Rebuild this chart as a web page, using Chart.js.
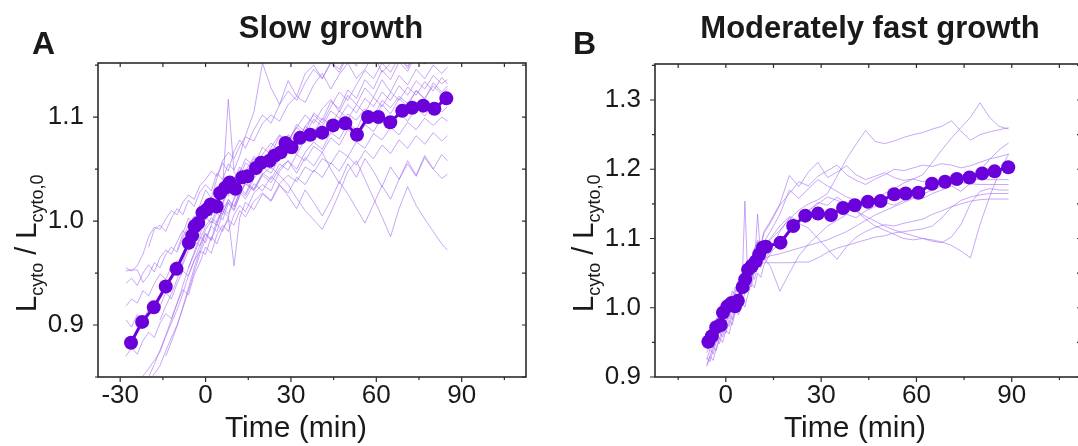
<!DOCTYPE html>
<html>
<head>
<meta charset="utf-8">
<script src="https://cdn.jsdelivr.net/npm/chart.js@4.4.1/dist/chart.umd.min.js"></script>
<style>
  html, body { margin: 0; padding: 0; background: #fff; width: 1078px; height: 446px; overflow: hidden; position: relative; }
  #wrapA { position: absolute; left: 0; top: 0; width: 540px; height: 446px; }
  #wrapB { position: absolute; left: 540px; top: 0; width: 600px; height: 446px; }
</style>
</head>
<body>
<div id="wrapA"><canvas id="cA" width="540" height="446"></canvas></div>
<div id="wrapB"><canvas id="cB" width="600" height="446"></canvas></div>
<script>
// ---------------- Panel A : Slow growth ----------------
const xTicksA = [-30, 0, 30, 60, 90];
const yTicksA = [0.9, 1.0, 1.1];

const timeMeanA = [-26.2,-22.3,-18.2,-14.0,-10.2,-5.9,-4.7,-3.8,-2.6,-1.1,0.4,1.8,3.9,5.1,6.9,8.5,10.5,12.9,14.7,17.7,19.5,22.5,24.3,26.4,28.1,30.2,33.2,36.8,41.0,44.8,49.1,53.2,57.1,60.7,64.9,69.1,72.6,76.5,80.4,84.6];
const meanA = [0.883,0.903,0.917,0.937,0.954,0.979,0.986,0.995,0.998,1.008,1.011,1.016,1.014,1.027,1.032,1.037,1.031,1.042,1.043,1.051,1.056,1.058,1.063,1.066,1.075,1.071,1.080,1.083,1.085,1.092,1.094,1.083,1.100,1.100,1.095,1.106,1.109,1.111,1.108,1.118];

const timeTraceA = [-28,-26,-24,-22,-20,-18,-16,-14,-12,-10,-8,-6,-4,-2,0,2,4,6,8,10,12,14,17,20,23,26,29,32,35,38,41,44,47,50,53,56,59,62,65,68,71,74,77,80,83,85];
const traceA01 = [0.955,0.952,0.957,0.968,0.985,0.994,0.992,1.002,1.010,1.006, 1.018,1.025,1.021,1.034,1.040,1.048,1.043,1.058,1.066,1.060, 1.072,1.081,1.077,1.094,1.102,1.096,1.112,1.120,1.114,1.131, 1.142,1.127,1.141,1.152,1.137,1.146,1.161,1.143,1.152,1.158, 1.147,1.163,1.151,1.168,1.156,1.162];
const traceA02 = [0.940,0.945,0.938,0.950,0.958,0.951,0.965,0.972,0.968,0.980, 0.991,0.985,0.998,1.006,1.001,1.015,1.022,1.016,1.030,1.041, 1.034,1.048,1.062,1.055,1.071,1.083,1.076,1.090,1.102,1.094, 1.108,1.117,1.105,1.121,1.112,1.128,1.119,1.136,1.124,1.140, 1.131,1.146,1.137,1.150,1.142,1.148];
const traceA03 = [0.918,0.925,0.921,0.933,0.928,0.940,0.949,0.944,0.956,0.962, 0.958,0.972,0.981,0.976,0.992,1.000,0.996,1.012,1.007,1.021, 1.030,1.024,1.041,1.052,1.046,1.060,1.071,1.064,1.079,1.088, 1.081,1.095,1.090,1.103,1.097,1.108,1.101,1.116,1.109,1.120, 1.113,1.125,1.118,1.130,1.122,1.127];
const traceA04 = [0.905,0.898,0.910,0.904,0.915,0.922,0.918,0.931,0.925,0.940, 0.952,0.947,0.962,0.971,0.968,0.985,0.978,0.993,1.001,0.996, 1.010,1.004,1.019,1.027,1.020,1.036,1.044,1.038,1.052,1.047, 1.060,1.055,1.068,1.062,1.076,1.070,1.084,1.078,1.090,1.083, 1.095,1.088,1.099,1.092,1.100,1.096];
const traceA05 = [0.870,0.878,0.872,0.885,0.893,0.888,0.902,0.911,0.906,0.921, 0.934,0.929,0.948,0.960,0.975,0.969,0.987,0.996,0.990,1.006, 1.015,1.009,1.027,1.035,1.029,1.048,1.058,1.050,1.066,1.076, 1.069,1.085,1.079,1.094,1.088,1.105,1.097,1.112,1.103,1.118, 1.110,1.126,1.117,1.133,1.124,1.130];
const traceA06 = [null,0.835,0.842,0.851,0.858,0.866,0.874,0.889,0.902,0.915, 0.930,0.948,0.962,0.977,0.988,0.982,1.001,1.010,1.004,1.022, 1.033,1.026,1.044,1.058,1.050,1.067,1.080,1.072,1.091,1.102, 1.094,1.110,1.124,1.116,1.131,1.145,1.137,1.152,1.143,1.158, 1.149,1.165,1.155,1.170,1.160,1.166];
const traceA07 = [null,null,0.830,0.838,0.846,0.853,0.861,0.875,0.888,0.900, 0.916,0.933,0.951,0.968,0.983,0.995,0.990,1.008,1.018,1.011, 1.025,1.038,1.031,1.046,1.040,1.055,1.049,1.064,1.058,1.072, 1.066,1.080,1.073,1.088,1.079,1.093,1.086,1.099,1.091,1.104, 1.096,1.109,1.101,1.113,1.105,1.110];
const traceA08 = [null,null,null,0.842,0.850,0.862,0.876,0.890,0.905,0.921, 0.938,0.955,0.968,0.982,0.995,1.003,0.998,1.012,1.020,1.014, 1.028,1.036,1.030,1.045,1.052,1.044,1.035,1.022,1.010,1.001, 0.992,1.008,1.027,1.048,1.058,1.040,1.022,1.004,0.985,1.012, 1.033,1.015,1.002,0.990,0.978,0.972];
const traceA09 = [null,null,null,null,0.975,0.992,0.996,0.990,1.003,1.012, 1.006,1.020,1.014,1.028,1.035,1.029,1.046,1.040,1.055,1.049, 1.063,1.082,1.105,1.152,1.128,1.112,1.135,1.120,1.142,1.150, 1.137,1.153,1.146,1.160,1.152,1.164,1.158,1.170,1.160,1.172, 1.165,1.176,1.168,1.178,1.170,1.174];
const traceA10 = [null,null,null,null,null,null,0.905,0.918,0.930,0.944, 0.961,0.978,0.992,0.986,1.004,1.016,1.010,1.034,1.117,1.047, 1.041,1.056,1.049,1.064,1.075,1.068,1.083,1.076,1.091,1.085, 1.099,1.092,1.106,1.098,1.112,1.104,1.119,1.110,1.124,1.116, 1.129,1.121,1.134,1.125,1.138,1.132];
const traceA11 = [null,null,null,null,null,null,null,0.870,0.884,0.899, 0.917,0.936,0.955,0.972,0.988,0.981,0.997,0.990,1.004,0.957, 1.003,1.018,1.011,1.026,1.019,1.034,1.027,1.042,1.035,1.049, 1.042,1.056,1.048,1.062,1.054,1.068,1.060,1.073,1.065,1.078, 1.070,1.082,1.074,1.085,1.077,1.082];
const traceA12 = [null,null,null,null,null,null,null,null,null,0.972, 0.988,1.003,0.996,1.015,1.030,1.022,1.041,1.056,1.048,1.067, 1.078,1.070,1.088,1.102,1.094,1.112,1.125,1.116,1.133,1.146, 1.137,1.152,1.143,1.160,1.149,1.166,1.155,1.170,1.158,1.173, 1.162,1.176,1.165,1.178,1.168,1.172];
const traceA13 = [null,null,null,null,null,null,null,null,null,null, null,0.955,0.970,0.985,0.979,0.996,1.008,1.001,1.017,1.010, 1.024,1.036,1.029,1.044,1.037,1.051,1.058,1.046,1.061,1.053, 1.066,1.050,1.036,1.055,1.042,1.060,1.048,1.033,1.052,1.040, 1.058,1.044,1.063,1.050,1.041,1.045];
const traceA14 = [null,null,null,null,null,null,null,null,null,null, null,null,0.982,0.998,1.012,1.005,1.024,1.017,1.036,1.030, 1.047,1.060,1.053,1.071,1.064,1.082,1.075,1.093,1.086,1.104, 1.097,1.115,1.108,1.126,1.118,1.136,1.127,1.145,1.136,1.153, 1.144,1.161,1.151,1.166,1.156,1.160];
const traceA15 = [null,null,null,null,null,null,null,null,null,null, null,null,null,0.990,1.004,0.998,1.013,1.006,1.021,1.014, 1.028,1.021,1.036,1.029,1.043,1.035,1.024,1.012,1.030,1.018, 1.005,1.020,1.038,1.026,1.012,0.998,1.016,1.034,1.021,1.040, 1.055,1.043,1.061,1.050,1.064,1.058];
const traceA16 = [0.952,0.953,0.953,0.941,0.948,0.960,0.955,0.968,0.975,0.970, 0.984,0.996,1.005,0.999,1.013,1.021,1.015,1.030,1.024,1.040, 1.052,1.045,1.060,1.054,1.068,1.062,1.078,1.090,1.083,1.098, 1.091,1.106,1.099,1.112,1.104,1.118,1.110,1.124,1.116,1.130, 1.121,1.135,1.127,1.140,1.132,1.136];

// ---------------- Panel B : Moderately fast growth ----------------
const xTicksB = [0, 30, 60, 90];
const yTicksB = [0.9, 1.0, 1.1, 1.2, 1.3];

const timeMeanB = [-5.5,-4.4,-3.0,-1.6,-0.9,0.5,1.8,2.9,3.8,5.3,6.1,7.0,8.1,9.4,10.5,11.7,12.6,17.2,21.2,25.0,29.0,33.1,36.9,40.6,44.7,48.7,53.0,56.6,60.6,64.9,69.0,72.7,76.7,80.7,84.6,88.9];
const meanB = [0.951,0.959,0.972,0.975,0.993,1.002,1.007,1.002,1.010,1.030,1.041,1.055,1.060,1.067,1.077,1.087,1.088,1.094,1.118,1.133,1.136,1.134,1.144,1.148,1.153,1.154,1.164,1.165,1.166,1.179,1.182,1.186,1.188,1.194,1.197,1.203];

const timeTraceB = [-6,-5,-4,-3,-2,-1,0,1,2,3,4,5,6,7,8,9,10,11,12,14,17,20,23,26,29,32,35,38,41,44,47,50,53,56,59,62,65,68,71,74,77,80,83,86,89];
const traceB01 = [0.935,0.948,0.962,0.955,0.972,0.985,0.978,0.996,1.004,0.998, 1.015,1.028,1.021,1.044,1.058,1.050,1.072,1.085,1.079, 1.098,1.112,1.128,1.141,1.150,1.156, 1.165,1.190,1.215,1.236,1.256,1.240,1.237,1.241,1.246,1.250, 1.253,1.258,1.262,1.270,1.255,1.242,1.250,1.254,1.257,1.260];
const traceB02 = [0.925,0.940,0.933,0.951,0.965,0.958,0.976,0.990,0.983,1.002, 1.020,1.012,1.035,1.050,1.043,1.066,1.080,1.073,1.095, 1.110,1.135,1.170,1.158,1.172,1.185, 1.176,1.168,1.160,1.155,1.152,1.158,1.165,1.172,1.180,1.186, 1.192,1.210,1.228,1.245,1.260,1.275,1.296,1.275,1.262,1.258];
const traceB03 = [0.950,0.962,0.957,0.975,0.988,0.982,1.000,1.012,1.005,1.024, 1.040,1.033,1.055,1.070,1.062,1.085,1.098,1.090,1.110, 1.125,1.150,1.191,1.175,1.196,1.210, 1.188,1.196,1.205,1.192,1.185,1.190,1.195,1.188,1.184,1.186, 1.182,1.185,1.180,1.183,1.181,1.179,1.178,1.178,1.178,1.178];
const traceB04 = [0.918,0.930,0.945,0.938,0.956,0.970,0.963,0.982,0.975,0.994, 1.010,1.003,1.022,1.038,1.030,1.052,1.065,1.058,1.072, 1.060,1.024,1.050,1.075,1.092,1.105, 1.118,1.126,1.135,1.130,1.140,1.146,1.152,1.148,1.155,1.160, 1.158,1.165,1.170,1.176,1.168,1.180,1.198,1.214,1.228,1.238];
const traceB05 = [0.940,0.952,0.946,0.964,0.978,0.971,0.990,0.983,1.000,1.015, 1.008,1.030,1.024,1.046,1.040,1.062,1.135,1.070,1.088, 1.100,1.118,1.132,1.125,1.140,1.150, 1.160,1.155,1.148,1.140,1.132,1.125,1.118,1.112,1.108,1.104, 1.100,1.098,1.095,1.090,1.082,1.072,1.120,1.160,1.195,1.222];
const traceB06 = [0.955,0.968,0.961,0.980,0.993,0.987,1.004,0.997,1.015,1.030, 1.022,1.040,1.034,1.052,1.046,1.058,1.064,1.065,1.065, 1.065,1.065,1.065,1.066,1.066,1.072, 1.080,1.086,1.090,1.094,1.098,1.102,1.104,1.108,1.110,1.112, 1.114,1.118,1.130,1.145,1.155,1.160,1.163,1.165,1.165,1.165];
const traceB07 = [0.928,0.922,0.940,0.955,0.948,0.966,0.980,0.973,0.992,1.006, 0.999,1.018,1.154,1.030,1.048,1.041,1.060,1.075,1.068, 1.082,1.110,1.130,1.122,1.115,1.100, 1.085,1.070,1.088,1.102,1.110,1.116,1.120,1.118,1.122,1.125, 1.128,1.135,1.140,1.146,1.150,1.154,1.156,1.157,1.157,1.157];
const traceB08 = [0.915,0.930,0.924,0.942,0.957,0.950,0.968,0.962,0.981,0.996, 0.990,1.008,1.001,1.020,1.036,1.029,1.050,1.044,1.062, 1.078,1.096,1.110,1.124,1.140,1.152, 1.148,1.160,1.150,1.140,1.128,1.118,1.112,1.106,1.100,1.098, 1.100,1.096,1.094,1.102,1.120,1.150,1.168,1.172,1.170,1.170];
const traceB09 = [0.945,0.958,0.952,0.970,0.965,0.983,0.998,0.991,1.010,1.003, 1.022,1.016,1.038,1.031,1.052,1.066,1.058,1.076,1.070, 1.075,1.078,1.082,1.086,1.090,1.094, 1.098,1.104,1.110,1.118,1.126,1.134,1.140,1.146,1.152,1.158, 1.164,1.170,1.176,1.180,1.184,1.186,1.185,1.185,1.185,1.185];
const traceB10 = [0.960,0.972,0.966,0.985,0.978,0.996,1.012,1.005,1.024,1.018, 1.037,1.030,1.052,1.068,1.060,1.082,1.095,1.088,1.108, 1.122,1.148,1.165,1.182,1.176,1.190, 1.198,1.206,1.192,1.184,1.178,1.186,1.192,1.200,1.198,1.202, 1.206,1.204,1.208,1.206,1.202,1.205,1.210,1.215,1.218,1.222];

// ---------------- Styling ----------------
const FONT = '"Liberation Sans", Arial, Helvetica, sans-serif';
const MEAN_COLOR = '#6a00da';
const TRACE_COLOR = 'rgba(155, 95, 240, 0.55)';
const AXIS_COLOR = '#2b2b2b';
const TEXT_COLOR = '#1a1a1a';

function buildDatasets(tTrace, traces, tMean, mean) {
  const ds = [{
    data: tMean.map((t, i) => ({ x: t, y: mean[i] })),
    borderColor: MEAN_COLOR, backgroundColor: MEAN_COLOR,
    borderWidth: 3, pointRadius: 7, pointHoverRadius: 7, pointBorderWidth: 0,
    order: 0
  }];
  traces.forEach(v => ds.push({
    data: tTrace.map((t, i) => ({ x: t, y: v[i] })),
    borderColor: TRACE_COLOR, borderWidth: 1, pointRadius: 0, pointHoverRadius: 0,
    spanGaps: false, order: 1
  }));
  return ds;
}

function drawYTitle(ctx, x0, yBottom) {
  const big = '29px ' + FONT, small = '18px ' + FONT;
  const parts = [['L', big, 0], ['cyto', small, 7], [' / ', big, 0], ['L', big, 0], ['cyto,0', small, 7]];
  ctx.save();
  ctx.translate(x0, yBottom);
  ctx.rotate(-Math.PI / 2);
  ctx.textAlign = 'left'; ctx.textBaseline = 'alphabetic';
  let cx = 0;
  parts.forEach(p => { ctx.font = p[1]; ctx.fillText(p[0], cx, p[2]); cx += ctx.measureText(p[0]).width; });
  ctx.restore();
}

const decor = {
  id: 'decor',
  afterDraw(chart, args, o) {
    const ctx = chart.ctx, ca = chart.chartArea;
    const xs = chart.scales.x, ys = chart.scales.y;
    ctx.save();
    ctx.strokeStyle = AXIS_COLOR;
    ctx.lineWidth = 1.6;
    ctx.strokeRect(ca.left, ca.top, ca.right - ca.left, ca.bottom - ca.top);
    ctx.lineWidth = 1.2;
    ctx.beginPath();
    // x ticks every 15 min (major every 30)
    for (let k = Math.ceil(xs.min / 15 - 1e-9); k * 15 <= xs.max + 1e-9; k++) {
      const v = k * 15, px = xs.getPixelForValue(v);
      const major = (k % 2 === 0);
      const lb = major ? 5 : 3;
      ctx.moveTo(px, ca.bottom); ctx.lineTo(px, ca.bottom + lb);
      ctx.moveTo(px, ca.top); ctx.lineTo(px, ca.top + 4);
    }
    // y ticks every 0.05 (major every 0.1)
    for (let k = Math.ceil(ys.min / 0.05 - 1e-9); k * 0.05 <= ys.max + 1e-9; k++) {
      const v = k * 0.05, py = ys.getPixelForValue(v);
      const major = (k % 2 === 0);
      const ll = major ? 5 : 3;
      ctx.moveTo(ca.left, py); ctx.lineTo(ca.left - ll, py);
      ctx.moveTo(ca.right, py); ctx.lineTo(ca.right - 4, py);
    }
    ctx.stroke();

    ctx.fillStyle = TEXT_COLOR;
    ctx.textBaseline = 'alphabetic';
    ctx.font = 'bold 31px ' + FONT;
    ctx.textAlign = 'center';
    ctx.fillText(o.title, o.titleX, 38);
    ctx.textAlign = 'left';
    ctx.font = 'bold 32px ' + FONT;
    ctx.fillText(o.letter, o.letterX, 54);
    ctx.font = '30px ' + FONT;
    ctx.textAlign = 'center';
    ctx.fillText('Time (min)', o.xTitleX, 437);
    drawYTitle(ctx, o.yTitleX, 312);
    ctx.restore();
  }
};

function makeChart(id, c) {
  return new Chart(document.getElementById(id), {
    type: 'line',
    data: { datasets: c.datasets },
    options: {
      responsive: false, animation: false, devicePixelRatio: 1, events: [],
      layout: { padding: { left: 0, top: c.top, right: c.padRight, bottom: 0 } },
      elements: { line: { tension: 0 } },
      plugins: { legend: { display: false }, tooltip: { enabled: false }, decor: c.decor },
      scales: {
        x: {
          type: 'linear', min: c.xMin, max: c.xMax,
          grid: { display: false }, border: { display: false },
          afterFit: s => { s.height = c.xAxisH; },
          afterBuildTicks: s => { s.ticks = c.xTicks.map(v => ({ value: v })); },
          ticks: { font: { family: FONT, size: 26, lineHeight: 1 }, color: TEXT_COLOR, padding: -2, maxRotation: 0, autoSkip: false, callback: v => String(v) }
        },
        y: {
          type: 'linear', min: c.yMin, max: c.yMax,
          grid: { display: false }, border: { display: false },
          afterFit: s => { s.width = c.yAxisW; },
          afterBuildTicks: s => { s.ticks = c.yTicks.map(v => ({ value: v })); },
          ticks: { font: { family: FONT, size: 26 }, color: TEXT_COLOR, padding: 6, autoSkip: false, callback: v => Number(v).toFixed(1) }
        }
      }
    },
    plugins: [decor]
  });
}

makeChart('cA', {
  datasets: buildDatasets(timeTraceA,
    [traceA01, traceA02, traceA03, traceA04, traceA05, traceA06, traceA07, traceA08, traceA09, traceA10, traceA11, traceA12, traceA13, traceA14, traceA15, traceA16],
    timeMeanA, meanA),
  xTicks: xTicksA, yTicks: yTicksA,
  xMin: -37.8, xMax: 112.6, yMin: 0.85, yMax: 1.152,
  top: 63, padRight: 14, xAxisH: 69, yAxisW: 98,
  decor: { title: 'Slow growth', titleX: 331, letter: 'A', letterX: 32, xTitleX: 296, yTitleX: 36 }
});

makeChart('cB', {
  datasets: buildDatasets(timeTraceB,
    [traceB01, traceB02, traceB03, traceB04, traceB05, traceB06, traceB07, traceB08, traceB09, traceB10],
    timeMeanB, meanB),
  xTicks: xTicksB, yTicks: yTicksB,
  xMin: -22.3, xMax: 111.8, yMin: 0.9, yMax: 1.352,
  top: 64, padRight: 59, xAxisH: 69, yAxisW: 115,
  decor: { title: 'Moderately fast growth', titleX: 330, letter: 'B', letterX: 33, xTitleX: 315, yTitleX: 53 }
});
</script>
</body>
</html>
